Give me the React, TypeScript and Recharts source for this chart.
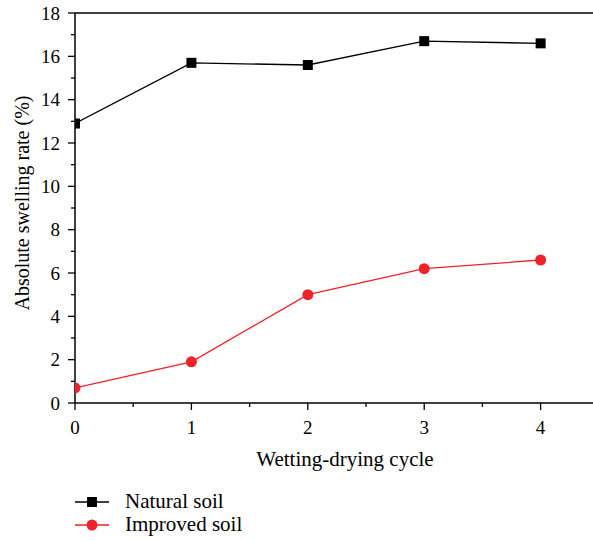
import React from 'react';
import { LineChart, Line, XAxis, YAxis, ReferenceLine } from 'recharts';

const cycles = [0, 1, 2, 3, 4];
const naturalSoil = [12.9, 15.7, 15.6, 16.7, 16.6];
const improvedSoil = [0.7, 1.9, 5.0, 6.2, 6.6];
const xTicks = [0, 0.5, 1, 1.5, 2, 2.5, 3, 3.5, 4];
const yTicks = [0, 1, 2, 3, 4, 5, 6, 7, 8, 9, 10, 11, 12, 13, 14, 15, 16, 17, 18];

const FONT = 'Liberation Serif';
const RED = '#ee2229';

const data = cycles.map((c, i) => ({ cycle: c, natural: naturalSoil[i], improved: improvedSoil[i] }));

const series = [
  { key: 'natural', name: 'Natural soil', color: '#000000', shape: 'square' },
  { key: 'improved', name: 'Improved soil', color: RED, shape: 'circle' },
];

function XTick({ x, y, payload }: any) {
  const major = Number.isInteger(payload.value);
  return (
    <g>
      <line x1={x} x2={x} y1={y} y2={y + (major ? 7 : 4)} stroke="#000" strokeWidth={1.3} />
      {major && (
        <text x={x} y={y + 31} textAnchor="middle" fontFamily={FONT} fontSize={19} fill="#000">
          {payload.value}
        </text>
      )}
    </g>
  );
}

function YTick({ x, y, payload }: any) {
  const major = payload.value % 2 === 0;
  return (
    <g>
      <line x1={x} x2={x - (major ? 7 : 4)} y1={y} y2={y} stroke="#000" strokeWidth={1.3} />
      {major && (
        <text x={x - 15} y={y} textAnchor="end" dominantBaseline="central" fontFamily={FONT} fontSize={19} fill="#000">
          {payload.value}
        </text>
      )}
    </g>
  );
}

function SquareDot({ cx, cy }: any) {
  if (cx == null || cy == null) return null;
  return <rect x={cx - 5} y={cy - 5} width={10} height={10} fill="#000" />;
}

export default function App() {
  return (
    <div style={{ position: 'absolute', left: 0, top: 0, width: 593, height: 540, overflow: 'hidden', background: '#fff' }}>
      <LineChart width={593} height={540} data={data} margin={{ top: 13, right: 0, bottom: 0, left: 0 }} style={{ fontFamily: FONT }}>
        <XAxis
          type="number"
          dataKey="cycle"
          domain={[0, 4.45]}
          allowDataOverflow
          ticks={xTicks}
          interval={0}
          height={137}
          tickSize={0}
          tickMargin={0}
          tickLine={false}
          tick={<XTick />}
          axisLine={{ stroke: '#000', strokeWidth: 1.5 }}
          label={{
            content: ({ viewBox }: any) => (
              <text x={345} y={viewBox.y + 63} textAnchor="middle" fontFamily={FONT} fontSize={21} fill="#000">
                Wetting-drying cycle
              </text>
            ),
          }}
        />
        <YAxis
          type="number"
          domain={[0, 18]}
          ticks={yTicks}
          interval={0}
          width={75}
          tickSize={0}
          tickMargin={0}
          tickLine={false}
          tick={<YTick />}
          axisLine={{ stroke: '#000', strokeWidth: 1.5 }}
          label={{
            content: ({ viewBox }: any) => {
              const cy = viewBox.y + viewBox.height / 2 - 5;
              return (
                <text x={22} y={cy} transform={`rotate(-90 22 ${cy})`} textAnchor="middle" dominantBaseline="central" fontFamily={FONT} fontSize={20} fill="#000">
                  Absolute swelling rate (%)
                </text>
              );
            },
          }}
        />
        <ReferenceLine y={18} stroke="#000" strokeWidth={1.5} />
        <Line dataKey="natural" stroke="#000" strokeWidth={1.3} dot={<SquareDot />} isAnimationActive={false} />
        <Line
          dataKey="improved"
          stroke={RED}
          strokeWidth={1.3}
          dot={{ r: 5.5, fill: RED, stroke: RED, strokeWidth: 0 }}
          isAnimationActive={false}
        />
      </LineChart>
      <svg width={300} height={60} style={{ position: 'absolute', left: 75, top: 490 }}>
        {series.map((s, i) => {
          const cy = 12 + i * 23;
          return (
            <g key={s.key}>
              <line x1={0} x2={34} y1={cy} y2={cy} stroke={s.color} strokeWidth={1.3} />
              {s.shape === 'square' ? (
                <rect x={12} y={cy - 5} width={10} height={10} fill={s.color} />
              ) : (
                <circle cx={17} cy={cy} r={5.5} fill={s.color} />
              )}
              <text x={50} y={cy + 6} fontFamily={FONT} fontSize={21} fill="#000">
                {s.name}
              </text>
            </g>
          );
        })}
      </svg>
    </div>
  );
}
